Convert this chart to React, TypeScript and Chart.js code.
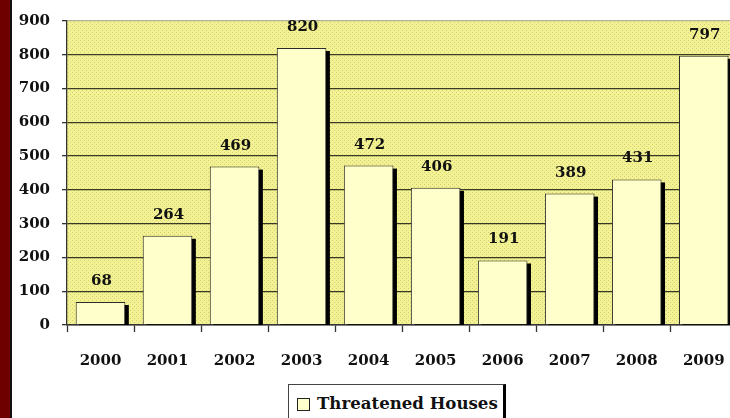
import React, { useEffect, useRef } from 'react';
import { Chart, registerables } from 'chart.js';

Chart.register(...registerables);

const years = ['2000', '2001', '2002', '2003', '2004', '2005', '2006', '2007', '2008', '2009'];
const threatenedHouses = [68, 264, 469, 820, 472, 406, 191, 389, 431, 797];
const seriesLabel = 'Threatened Houses';
const yMin = 0;
const yMax = 900;
const yStep = 100;

const FONT = "'DejaVu Serif', serif";

export default function App() {
  const ref = useRef<HTMLCanvasElement>(null);

  useEffect(() => {
    const canvas = ref.current!;
    const ctx0 = canvas.getContext('2d')!;
    const tile = document.createElement('canvas');
    tile.width = 4;
    tile.height = 4;
    const t = tile.getContext('2d')!;
    t.fillStyle = '#F3F292';
    t.fillRect(0, 0, 4, 4);
    t.fillStyle = '#D4CF7A';
    t.fillRect(0, 0, 1, 1);
    t.fillRect(2, 2, 1, 1);
    const pattern = ctx0.createPattern(tile, 'repeat');

    const bgPlugin = {
      id: 'bgPattern',
      beforeDraw(chart: any) {
        const { ctx, chartArea: a } = chart;
        ctx.save();
        ctx.fillStyle = pattern;
        ctx.fillRect(a.left, a.top, a.right - a.left, a.bottom - a.top);
        ctx.restore();
      },
    };

    const shadowPlugin = {
      id: 'barShadow',
      beforeDatasetsDraw(chart: any) {
        const { ctx, chartArea: a } = chart;
        const meta = chart.getDatasetMeta(0);
        ctx.save();
        ctx.beginPath();
        ctx.rect(a.left, 0, a.right - a.left + 20, a.bottom);
        ctx.clip();
        ctx.fillStyle = '#000';
        meta.data.forEach((bar: any) => {
          const { x, y, base, width } = bar.getProps(['x', 'y', 'base', 'width'], true);
          ctx.fillRect(x - width / 2 + 3.5, y + 3, width, base - y);
        });
        ctx.restore();
      },
    };

    const labelPlugin = {
      id: 'valueLabels',
      afterDatasetsDraw(chart: any) {
        const { ctx } = chart;
        const meta = chart.getDatasetMeta(0);
        ctx.save();
        ctx.font = `bold 15px ${FONT}`;
        ctx.fillStyle = '#111';
        ctx.textAlign = 'center';
        ctx.textBaseline = 'alphabetic';
        meta.data.forEach((bar: any, i: number) => {
          const { x, y } = bar.getProps(['x', 'y'], true);
          ctx.fillText(String(threatenedHouses[i]), x + 1, y - 17);
        });
        ctx.restore();
      },
    };

    const chart = new Chart(canvas, {
      type: 'bar',
      data: {
        labels: years,
        datasets: [
          {
            label: seriesLabel,
            data: threatenedHouses,
            backgroundColor: '#FFFFCC',
            borderColor: '#2a2a2a',
            borderWidth: 1,
            borderSkipped: 'bottom',
            categoryPercentage: 1,
            barPercentage: 0.74,
          },
        ],
      },
      options: {
        animation: false,
        responsive: false,
        devicePixelRatio: 1,
        layout: { padding: { top: 18, right: 7, bottom: 0, left: 0 } },
        plugins: {
          legend: { display: false },
          tooltip: { enabled: false },
        },
        scales: {
          x: {
            offset: true,
            grid: {
              offset: true,
              drawOnChartArea: false,
              drawTicks: true,
              tickLength: 7,
              tickColor: '#333',
              tickWidth: 1.3,
            },
            border: { display: true, color: '#333', width: 1.5 },
            ticks: {
              color: '#111',
              padding: 20,
              font: { family: FONT, weight: 'bold', size: 15 },
            },
            afterFit(scale: any) {
              scale.height = 93;
            },
          },
          y: {
            min: yMin,
            max: yMax,
            ticks: {
              stepSize: yStep,
              color: '#111',
              padding: 12,
              font: { family: FONT, weight: 'bold', size: 15 },
            },
            grid: {
              color: (c: any) => (c.tick && c.tick.value === yMax ? '#B0B098' : '#3a3a24'),
              lineWidth: 1.3,
              tickLength: 5,
              tickColor: '#333',
            },
            border: { display: true, color: '#333', width: 1.3 },
            afterFit(scale: any) {
              scale.width = 67;
            },
          },
        },
      },
      plugins: [bgPlugin, shadowPlugin, labelPlugin],
    });

    return () => chart.destroy();
  }, []);

  return (
    <div
      style={{
        position: 'fixed',
        left: 0,
        top: 0,
        width: 730,
        height: 418,
        overflow: 'hidden',
        background: '#fff',
      }}
    >
      <canvas
        ref={ref}
        width={745}
        height={418}
        style={{ position: 'absolute', left: 0, top: 0, width: 745, height: 418 }}
      />
      <div style={{ position: 'absolute', left: 0, top: 0, width: 10, height: 418, background: '#6E0000' }} />
      <div style={{ position: 'absolute', left: 10, top: 0, width: 2, height: 418, background: '#111' }} />
      <div
        style={{
          position: 'absolute',
          left: 288,
          top: 384,
          width: 214,
          height: 40,
          borderTop: '1px solid #444',
          borderLeft: '1px solid #444',
          borderRight: '3px solid #000',
          background: '#fff',
        }}
      >
        <div
          style={{
            position: 'absolute',
            left: 8,
            top: 13,
            width: 11,
            height: 11,
            border: '1px solid #222',
            background: '#FFFFCC',
          }}
        />
        <div
          style={{
            position: 'absolute',
            left: 28,
            top: 6,
            font: `bold 16.6px ${FONT}`,
            color: '#111',
            whiteSpace: 'nowrap',
            lineHeight: '24px',
          }}
        >
          {seriesLabel}
        </div>
      </div>
    </div>
  );
}
